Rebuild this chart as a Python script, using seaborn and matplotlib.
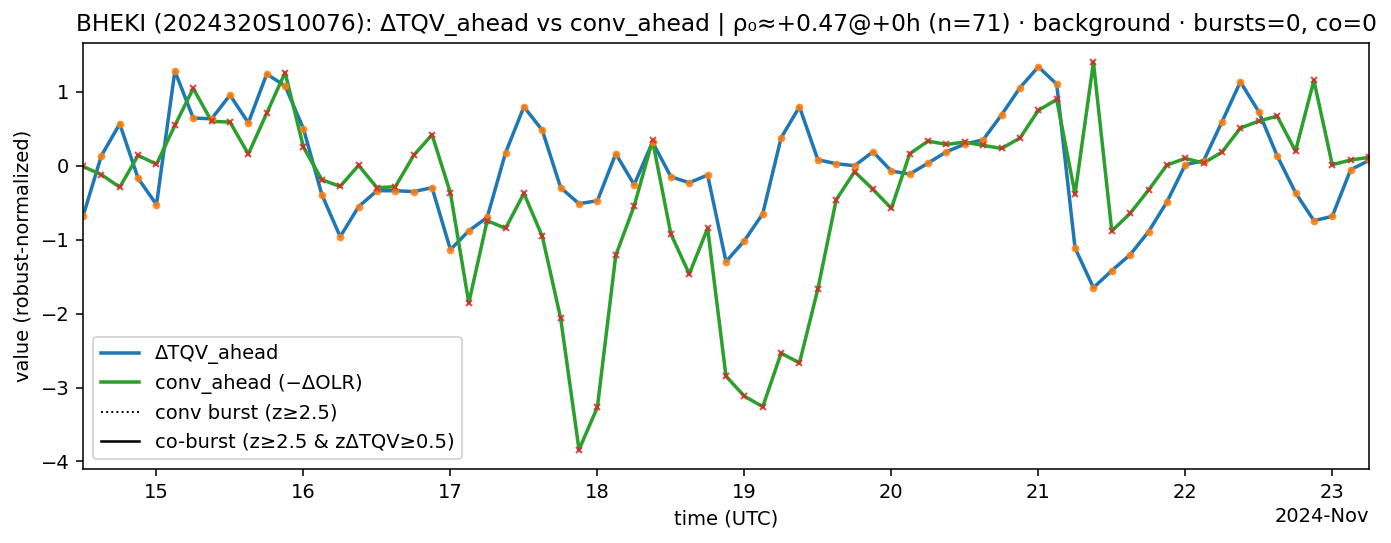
import numpy as np
import pandas as pd
import matplotlib
matplotlib.use("Agg")
import matplotlib.pyplot as plt
import matplotlib.dates as mdates
import seaborn as sns

start_time = "2024-11-14 12:00"
n_points = 71
step = "3h"

dtqv_ahead = [
    -0.685, 0.135, 0.567, -0.17, -0.527, 1.28, 0.645, 0.635, 0.955, 0.58,
    1.24, 1.08, 0.50, -0.39, -0.96, -0.554, -0.338, -0.338, -0.35, -0.297,
    -1.135, -0.88, -0.70, 0.175, 0.797, 0.48, -0.297, -0.514, -0.473, 0.162,
    -0.257, 0.32, -0.149, -0.23, -0.126, -1.297, -1.014, -0.649, 0.378, 0.797,
    0.081, 0.027, 0.0, 0.189, -0.072, -0.113, 0.036, 0.189, 0.293, 0.351,
    0.689, 1.054, 1.338, 1.104, -1.113, -1.649, -1.419, -1.203, -0.892, -0.49,
    0.014, 0.068, 0.595, 1.135, 0.73, 0.135, -0.365, -0.743, -0.685, -0.054,
    0.072,
]
conv_ahead = [
    -0.01, -0.12, -0.29, 0.14, 0.02, 0.545, 1.045, 0.60, 0.59, 0.158,
    0.71, 1.26, 0.25, -0.19, -0.28, 0.005, -0.297, -0.284, 0.14, 0.42,
    -0.37, -1.855, -0.743, -0.847, -0.374, -0.955, -2.063, -3.84, -3.266, -1.212,
    -0.545, 0.342, -0.923, -1.464, -0.847, -2.847, -3.117, -3.26, -2.536, -2.667,
    -1.667, -0.459, -0.081, -0.32, -0.577, 0.162, 0.333, 0.288, 0.32, 0.275,
    0.234, 0.374, 0.748, 0.896, -0.383, 1.398, -0.883, -0.644, -0.329, 0.009,
    0.099, 0.036, 0.185, 0.509, 0.604, 0.671, 0.198, 1.153, 0.014, 0.077,
    0.113,
]

title = ("BHEKI (2024320S10076): ΔTQV_ahead vs conv_ahead | ρ₀≈+0.47@+0h (n=71)"
         " · background · bursts=0, co=0")

times = pd.date_range(start_time, periods=n_points, freq=step)
df = pd.DataFrame({"time": times, "dtqv": dtqv_ahead, "conv": conv_ahead})

DPI = 140
fig = plt.figure(figsize=(1391 / DPI, 543 / DPI), dpi=DPI)
ax = fig.add_axes([83 / 1391, 1 - 469 / 543, (1369 - 83) / 1391, (469 - 43) / 543])

sns.lineplot(data=df, x="time", y="dtqv", ax=ax, color="tab:blue", lw=1.8,
             label="ΔTQV_ahead")
sns.lineplot(data=df, x="time", y="conv", ax=ax, color="tab:green", lw=1.8,
             label="conv_ahead (−ΔOLR)")
ax.plot(df["time"], df["dtqv"], "o", color="tab:orange", ms=3, alpha=0.8,
        label="_nolegend_")
ax.plot(df["time"], df["conv"], "x", color="tab:red", ms=3.5, mew=1.1, alpha=0.8,
        label="_nolegend_")
ax.plot([], [], color="black", ls=":", lw=1, label="conv burst (z≥2.5)")
ax.plot([], [], color="black", ls="-", lw=1.3, label="co-burst (z≥2.5 & zΔTQV≥0.5)")

ax.set_xlim(times[0], times[-1])
loc = mdates.DayLocator()
ax.xaxis.set_major_locator(loc)
ax.xaxis.set_major_formatter(mdates.ConciseDateFormatter(loc))
ax.set_xlabel("time (UTC)")
ax.set_ylabel("value (robust-normalized)")
ax.set_title(title, fontsize=12)
ax.legend(loc="lower left")

fig.savefig("out.png", dpi=DPI)
